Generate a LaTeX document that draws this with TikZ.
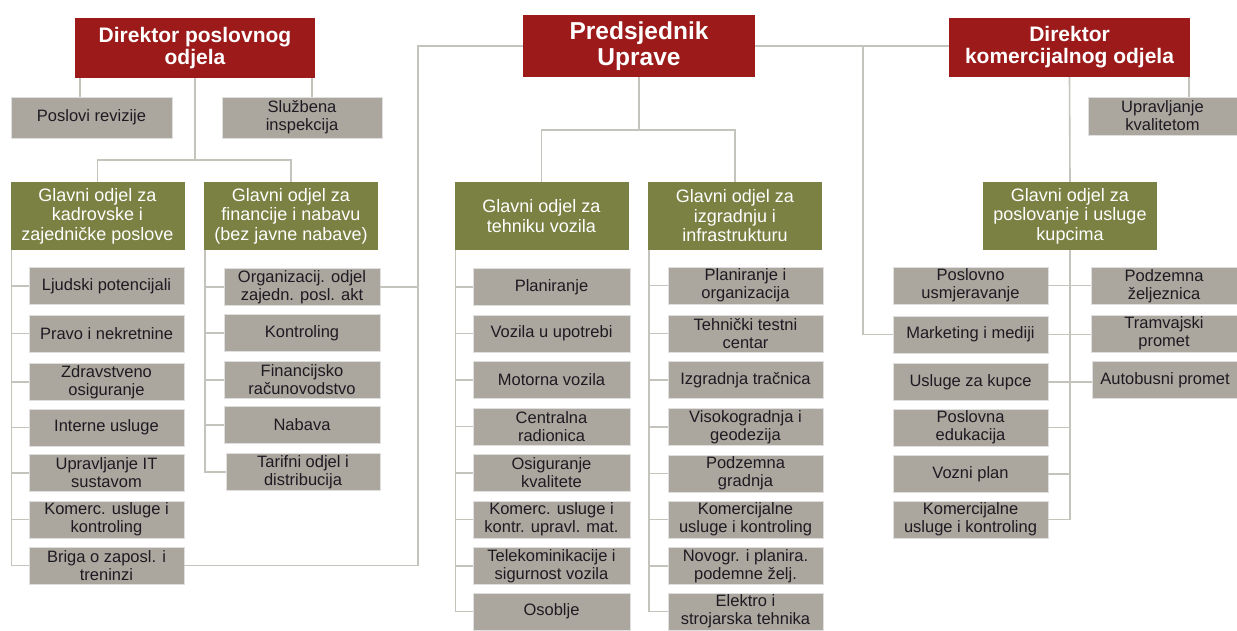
\documentclass[tikz,border=0pt]{standalone}
\usepackage{fontspec}
\setmainfont{Liberation Sans}
\usepackage{tikz}
\usetikzlibrary{calc}

\definecolor{upred}{HTML}{9C1A1A}
\definecolor{odgreen}{HTML}{7A8143}
\definecolor{jedgray}{HTML}{ABA79E}
\definecolor{linkgray}{HTML}{C4C3BC}
\definecolor{jedtext}{HTML}{1E1A22}

\tikzset{
  topbox/.style={fill=upred, text=white, inner sep=0pt, align=center,
    font=\fontsize{21}{22}\selectfont\bfseries},
  headbox/.style={fill=odgreen, text=white, inner sep=0pt, align=center,
    minimum height=68pt, minimum width=174pt, font=\fontsize{18}{19.5}\selectfont},
  unitbox/.style={fill=jedgray, draw=gray!25, line width=0.8pt, text=jedtext,
    inner sep=0pt, align=center, minimum height=37pt,
    font=\fontsize{16.5}{18}\selectfont},
  link/.style={draw=linkgray, line width=1.6pt}
}

\begin{document}
\begin{tikzpicture}[x=1pt,y=-1pt]
        \useasboundingbox (0,0) rectangle (1237,630);
        % uprava i direktori
        \node[topbox, minimum width=240pt, minimum height=60pt] (dirposl) at (195,48) {Direktor poslovnog\\odjela};
        \node[topbox, minimum width=232pt, minimum height=62pt, font=\fontsize{24.5}{26}\selectfont\bfseries] (predsj) at (639,46) {Predsjednik\\Uprave};
        \node[topbox, minimum width=241pt, minimum height=59pt] (dirkom) at (1069.5,47.5) {Direktor\\komercijalnog odjela};
        \node[unitbox, minimum width=161pt, minimum height=41pt] (revizija) at (91.5,117.5) {Poslovi revizije};
        \node[unitbox, minimum width=160pt, minimum height=41pt] (inspekcija) at (302,117.5) {Službena\\inspekcija};
        \node[unitbox, minimum width=149pt, minimum height=38pt] (kvaliteta) at (1162.5,116) {Upravljanje\\kvalitetom};
        % glavni odjeli
        \node[headbox] (gokadr) at (97.5,216) {Glavni odjel za\\kadrovske i\\zajedničke poslove};
        \node[headbox] (gofin) at (291,216) {Glavni odjel za\\financije i nabavu\\(bez javne nabave)};
        \node[headbox] (gotehn) at (541.5,216) {Glavni odjel za\\tehniku vozila};
        \node[headbox] (goizgr) at (735,216) {Glavni odjel za\\izgradnju i\\infrastrukturu};
        \node[headbox] (goposl) at (1070,216) {Glavni odjel za\\poslovanje i usluge\\kupcima};
        % kadrovski
        \node[unitbox, minimum width=155pt] (k1) at (106.5,286) {Ljudski potencijali};
        \node[unitbox, minimum width=155pt] (k2) at (106.5,333.5) {Pravo i nekretnine};
        \node[unitbox, minimum width=155pt] (k3) at (106.5,382) {Zdravstveno\\osiguranje};
        \node[unitbox, minimum width=155pt] (k4) at (106.5,427.5) {Interne usluge};
        \node[unitbox, minimum width=155pt] (k5) at (106.5,473) {Upravljanje IT\\sustavom};
        \node[unitbox, minimum width=155pt] (k6) at (106.5,519.5) {Komerc. usluge i\\kontroling};
        \node[unitbox, minimum width=155pt] (k7) at (106.5,565.5) {Briga o zaposl. i\\treninzi};
        % financije
        \node[unitbox, minimum width=156pt] (f1) at (302,287) {Organizacij. odjel\\zajedn. posl. akt};
        \node[unitbox, minimum width=156pt] (f2) at (302,333) {Kontroling};
        \node[unitbox, minimum width=156pt] (f3) at (302,380) {Financijsko\\računovodstvo};
        \node[unitbox, minimum width=156pt] (f4) at (302,425) {Nabava};
        \node[unitbox, minimum width=154pt] (f5) at (303,472) {Tarifni odjel i\\distribucija};
        % tehnika vozila
        \node[unitbox, minimum width=157pt] (t1) at (551.5,287) {Planiranje};
        \node[unitbox, minimum width=157pt] (t2) at (551.5,333.5) {Vozila u upotrebi};
        \node[unitbox, minimum width=157pt] (t3) at (551.5,380) {Motorna vozila};
        \node[unitbox, minimum width=157pt] (t4) at (551.5,426.5) {Centralna\\radionica};
        \node[unitbox, minimum width=157pt] (t5) at (551.5,473) {Osiguranje\\kvalitete};
        \node[unitbox, minimum width=157pt] (t6) at (551.5,519.5) {Komerc. usluge i\\kontr. upravl. mat.};
        \node[unitbox, minimum width=157pt] (t7) at (551.5,566) {Telekominikacije i\\sigurnost vozila};
        \node[unitbox, minimum width=157pt] (t8) at (551.5,611.5) {Osoblje};
        % izgradnja
        \node[unitbox, minimum width=155pt] (i1) at (745.5,285.5) {Planiranje i\\organizacija};
        \node[unitbox, minimum width=155pt] (i2) at (745.5,333.5) {Tehnički testni\\centar};
        \node[unitbox, minimum width=155pt] (i3) at (745.5,380) {Izgradnja tračnica};
        \node[unitbox, minimum width=155pt] (i4) at (745.5,427) {Visokogradnja i\\geodezija};
        \node[unitbox, minimum width=155pt] (i5) at (745.5,473.5) {Podzemna\\gradnja};
        \node[unitbox, minimum width=155pt] (i6) at (745.5,519.5) {Komercijalne\\usluge i kontroling};
        \node[unitbox, minimum width=155pt] (i7) at (745.5,566) {Novogr. i planira.\\podemne želj.};
        \node[unitbox, minimum width=155pt] (i8) at (745.5,611.5) {Elektro i\\strojarska tehnika};
        % poslovanje i usluge kupcima
        \node[unitbox, minimum width=155pt] (p1) at (970.5,285.5) {Poslovno\\usmjeravanje};
        \node[unitbox, minimum width=155pt] (p2) at (970.5,334.5) {Marketing i mediji};
        \node[unitbox, minimum width=155pt] (p3) at (970.5,382) {Usluge za kupce};
        \node[unitbox, minimum width=155pt] (p4) at (970.5,427.5) {Poslovna\\edukacija};
        \node[unitbox, minimum width=155pt] (p5) at (970.5,474) {Vozni plan};
        \node[unitbox, minimum width=155pt] (p6) at (970.5,519.5) {Komercijalne\\usluge i kontroling};
        \node[unitbox, minimum width=146pt] (r1) at (1164,286) {Podzemna\\željeznica};
        \node[unitbox, minimum width=146pt] (r2) at (1164,333.5) {Tramvajski\\promet};
        \node[unitbox, minimum width=146pt] (r3) at (1165,380) {Autobusni promet};

        % veze
        \draw[link] ([xshift=5pt]dirposl.south west) -- ([xshift=5pt]dirposl.south west |- revizija.north);
        \draw[link] ([xshift=-3pt]dirposl.south east) -- ([xshift=-3pt]dirposl.south east |- inspekcija.north);
        \draw[link] (dirposl.south) -- ++(0,82) coordinate (jp) -| (gokadr.north);
        \draw[link] (jp) -| (gofin.north);
        \draw[link] (predsj.south) -- ++(0,53) coordinate (jt) -| (gotehn.north);
        \draw[link] (jt) -| (goizgr.north);
        \draw[link] (predsj.west) -- ++(-105,0) coordinate (pl) |- (k7.east);
        \draw[link] (f1.east) -- (f1.east -| pl);
        \draw[link] (predsj.east) -- (predsj.east -| dirkom.west);
        \draw[link] (predsj.east) -- ++(108,0) |- (p2.west);
        \draw[link] ([xshift=-1pt]dirkom.south east) -- ([xshift=-1pt]dirkom.south east |- kvaliteta.north);
        \draw[link] (dirkom.south) -- (goposl.north);
        \draw[link] (goposl.south) |- (p6.east);
        \draw[link] (p1.east) -- (p1.east -| r1.west);
        \draw[link] (p2.east) -- (p2.east -| r2.west);
        \draw[link] (p3.east) -- (p3.east -| r3.west);
        \draw[link] (p4.east) -- (p4.east -| goposl.south);
        \draw[link] (p5.east) -- (p5.east -| goposl.south);
        % stabla odjela
        \draw[link] ([xshift=1pt]gokadr.south west) |- (k7.west);
        \draw[link] (k1.west) -- ++(-17,0);
        \draw[link] (k2.west) -- ++(-17,0);
        \draw[link] (k3.west) -- ++(-17,0);
        \draw[link] (k4.west) -- ++(-17,0);
        \draw[link] (k5.west) -- ++(-17,0);
        \draw[link] (k6.west) -- ++(-17,0);
        \draw[link] ([xshift=1pt]gofin.south west) |- (f5.west);
        \draw[link] (f1.west) -- ++(-19,0);
        \draw[link] (f2.west) -- ++(-19,0);
        \draw[link] (f3.west) -- ++(-19,0);
        \draw[link] (f4.west) -- ++(-19,0);
        \draw[link] ([xshift=1pt]gotehn.south west) |- (t8.west);
        \draw[link] (t1.west) -- ++(-17,0);
        \draw[link] (t2.west) -- ++(-17,0);
        \draw[link] (t3.west) -- ++(-17,0);
        \draw[link] (t4.west) -- ++(-17,0);
        \draw[link] (t5.west) -- ++(-17,0);
        \draw[link] (t6.west) -- ++(-17,0);
        \draw[link] (t7.west) -- ++(-17,0);
        \draw[link] ([xshift=1pt]goizgr.south west) |- (i8.west);
        \draw[link] (i1.west) -- ++(-19,0);
        \draw[link] (i2.west) -- ++(-19,0);
        \draw[link] (i3.west) -- ++(-19,0);
        \draw[link] (i4.west) -- ++(-19,0);
        \draw[link] (i5.west) -- ++(-19,0);
        \draw[link] (i6.west) -- ++(-19,0);
        \draw[link] (i7.west) -- ++(-19,0);
\end{tikzpicture}
\end{document}
